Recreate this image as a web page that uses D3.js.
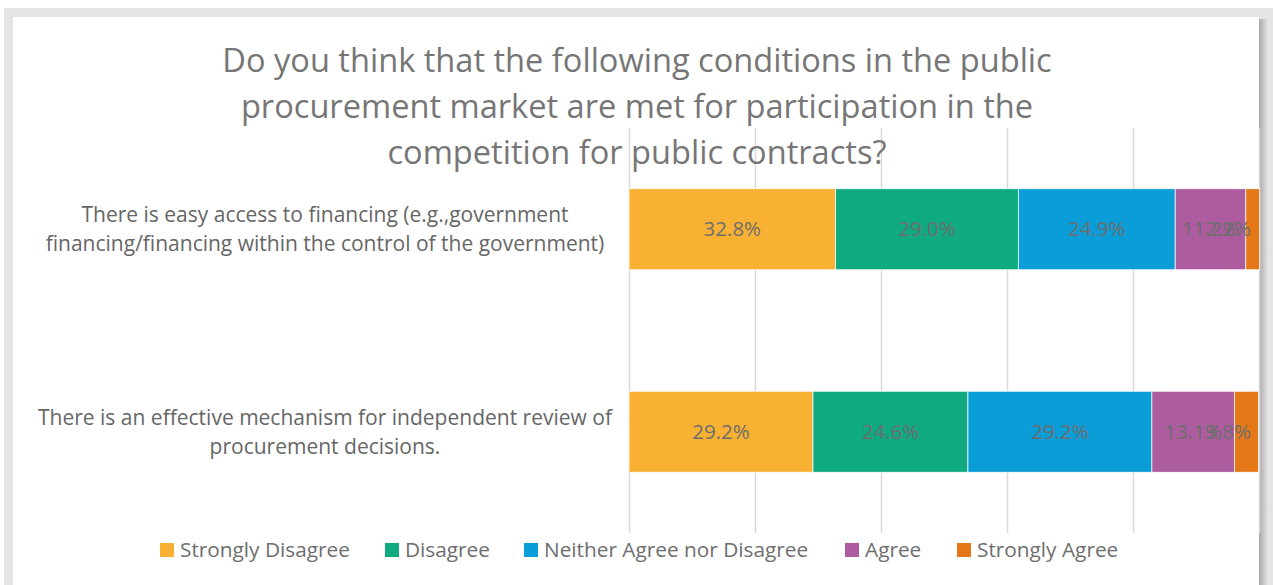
<!DOCTYPE html>
<html>
<head>
<meta charset="utf-8">
<script src="https://cdn.jsdelivr.net/npm/d3@7"></script>
<style>
  html, body { margin: 0; padding: 0; background: #ffffff; }
  svg { display: block; }
  text { font-family: "Open Sans", "Noto Sans", sans-serif; }
</style>
</head>
<body>
<svg id="chart" width="1273" height="585"></svg>
<script>
// Survey categories (top to bottom)
const categories = [
  "There is easy access to financing (e.g.,government financing/financing within the control of the government)",
  "There is an effective mechanism for independent review of procurement decisions."
];
const categoryLines = [
  ["There is easy access to financing (e.g.,government", "financing/financing within the control of the government)"],
  ["There is an effective mechanism for independent review of", "procurement decisions."]
];

// Response options and their colours
const seriesNames = ["Strongly Disagree", "Disagree", "Neither Agree nor Disagree", "Agree", "Strongly Agree"];
const seriesColors = ["#F8B133", "#0FAA80", "#0A9DD8", "#AC5C9F", "#E47819"];

// Share of respondents (%) per response, one array per response
const stronglyDisagree = [32.8, 29.2];
const disagree = [29.0, 24.6];
const neither = [24.9, 29.2];
const agree = [11.2, 13.1];
const stronglyAgree = [2.2, 3.8];

const titleLines = [
  "Do you think that the following conditions in the public",
  "procurement market are met for participation in the",
  "competition for public contracts?"
];
const xTicks = [0, 20, 40, 60, 80, 100];

const seriesValues = [stronglyDisagree, disagree, neither, agree, stronglyAgree];
const rows = categories.map((c, i) => {
  const r = { category: c };
  seriesNames.forEach((s, j) => { r[s] = seriesValues[j][i]; });
  return r;
});
const stacked = d3.stack().keys(seriesNames)(rows);

const svg = d3.select("#chart");

// Page frame: grey surround with a white panel and a soft right-hand shadow
svg.append("rect").attr("x", 0).attr("y", 0).attr("width", 1273).attr("height", 585).attr("fill", "#ffffff");
svg.append("rect").attr("x", 4).attr("y", 8).attr("width", 1269).attr("height", 577).attr("fill", "#e4e4e4");
const defs = svg.append("defs");
const grad = defs.append("linearGradient").attr("id", "shadow").attr("x1", 0).attr("x2", 1).attr("y1", 0).attr("y2", 0);
grad.append("stop").attr("offset", "0%").attr("stop-color", "#a9a9a9");
grad.append("stop").attr("offset", "100%").attr("stop-color", "#e4e4e4");
svg.append("rect").attr("x", 1259).attr("y", 19).attr("width", 9).attr("height", 566).attr("fill", "url(#shadow)");
svg.append("rect").attr("x", 13).attr("y", 17).attr("width", 1246).attr("height", 568).attr("fill", "#ffffff");

const plot = { left: 629, right: 1259, top: 128, bottom: 533 };

const x = d3.scaleLinear().domain([0, 100]).range([plot.left, plot.right]);
const y = d3.scaleBand().domain(categories).range([plot.top, plot.bottom]).paddingInner(0.6).paddingOuter(0.3);

// Vertical gridlines
const grid = svg.append("g")
  .attr("transform", `translate(0,${plot.bottom})`)
  .call(d3.axisBottom(x).tickValues(xTicks).tickSize(-(plot.bottom - plot.top)).tickFormat(""));
grid.select(".domain").remove();
grid.selectAll(".tick line").attr("stroke", "#d9d9d9").attr("stroke-width", 1.5);

// Stacked bars
const layers = svg.append("g").selectAll("g")
  .data(stacked).join("g")
  .attr("fill", (d, i) => seriesColors[i]);
layers.selectAll("rect")
  .data(d => d.map(p => ({ p, cat: p.data.category })))
  .join("rect")
  .attr("x", d => x(d.p[0]))
  .attr("y", d => y(d.cat))
  .attr("width", d => x(d.p[1]) - x(d.p[0]))
  .attr("height", y.bandwidth())
  .attr("stroke", "#ffffff")
  .attr("stroke-width", 0.75);

// Data labels: centred in each segment, pulled inside the plot when they would spill past its right edge
const labels = svg.append("g");
const labelLimit = plot.right - 8;
stacked.forEach(layer => {
  layer.forEach(p => {
    const t = labels.append("text")
      .attr("x", x((p[0] + p[1]) / 2))
      .attr("y", y(p.data.category) + y.bandwidth() / 2)
      .attr("dy", "0.35em")
      .attr("text-anchor", "middle")
      .attr("font-size", 20.5)
      .attr("fill", "#6e6e6e")
      .text(d3.format(".1f")(p[1] - p[0]) + "%");
    const w = t.node().getComputedTextLength();
    if (x((p[0] + p[1]) / 2) + w / 2 > labelLimit) {
      t.attr("text-anchor", "end").attr("x", labelLimit);
    }
  });
});

// Category labels
const catG = svg.append("g");
categories.forEach((c, i) => {
  const cy = y(c) + y.bandwidth() / 2;
  const lines = categoryLines[i];
  const lh = 29;
  lines.forEach((ln, k) => {
    catG.append("text")
      .attr("x", 325)
      .attr("y", cy + (k - (lines.length - 1) / 2) * lh)
      .attr("dy", "0.35em")
      .attr("text-anchor", "middle")
      .attr("font-size", 21)
      .attr("fill", "#666666")
      .text(ln);
  });
});

// Title
const titleG = svg.append("g");
titleLines.forEach((t, k) => {
  titleG.append("text")
    .attr("x", 637)
    .attr("y", 61 + k * 46)
    .attr("dy", "0.35em")
    .attr("text-anchor", "middle")
    .attr("font-size", 32.6)
    .attr("fill", "#767676")
    .text(t);
});

// Legend
const legendX = [160, 385, 524, 845, 957];
const legend = svg.append("g");
seriesNames.forEach((s, i) => {
  legend.append("rect")
    .attr("x", legendX[i]).attr("y", 543)
    .attr("width", 14).attr("height", 14)
    .attr("fill", seriesColors[i]);
  legend.append("text")
    .attr("x", legendX[i] + 20).attr("y", 550)
    .attr("dy", "0.35em")
    .attr("font-size", 20.8)
    .attr("fill", "#6e6e6e")
    .text(s);
});
</script>
</body>
</html>
